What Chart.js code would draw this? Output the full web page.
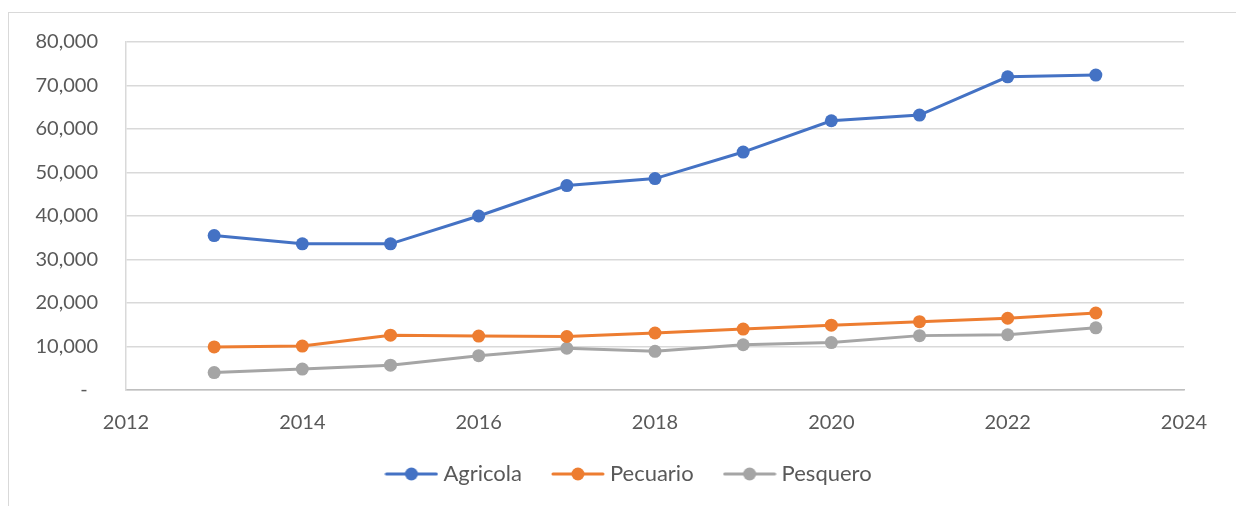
<!DOCTYPE html>
<html>
<head>
<meta charset="utf-8">
<script src="https://cdn.jsdelivr.net/npm/chart.js@4/dist/chart.umd.min.js"></script>
<style>
  html, body { margin: 0; padding: 0; background: #fff; }
  #wrap { position: relative; width: 1236px; height: 506px; overflow: hidden; }
  #frame { position: absolute; left: 8px; top: 12px; width: 1300px; height: 600px; border: 1px solid #d9d9d9; box-sizing: border-box; }
  #chart { position: absolute; left: 0; top: 0; }
</style>
</head>
<body>
<div id="wrap">
  <div id="frame"></div>
  <canvas id="chart" width="1236" height="506"></canvas>
</div>
<script>
const years = [2013, 2014, 2015, 2016, 2017, 2018, 2019, 2020, 2021, 2022, 2023];
const agricola = [35500, 33600, 33600, 40000, 47000, 48600, 54700, 61900, 63200, 72000, 72400];
const pecuario = [9900, 10100, 12600, 12400, 12300, 13100, 14000, 14900, 15700, 16500, 17700];
const pesquero = [4000, 4800, 5700, 7900, 9600, 8900, 10400, 10900, 12500, 12700, 14300];
const seriesNames = ['Agricola', 'Pecuario', 'Pesquero'];
const colors = ['#4472C4', '#ED7D31', '#A5A5A5'];

const FONT = 'Lato, "Open Sans", sans-serif';
const TEXT = '#595959';

// legend icon: short line with a dot in the middle, like the Excel legend
function legendIcon(color) {
  const c = document.createElement('canvas');
  c.width = 54; c.height = 14;
  const g = c.getContext('2d');
  g.strokeStyle = color;
  g.lineWidth = 3;
  g.lineCap = 'round';
  g.beginPath();
  g.moveTo(2, 7); g.lineTo(52, 7);
  g.stroke();
  g.fillStyle = color;
  g.beginPath();
  g.arc(27, 7, 6.5, 0, Math.PI * 2);
  g.fill();
  return c;
}

const toPoints = (vals) => vals.map((v, i) => ({ x: years[i], y: v }));

const datasets = [agricola, pecuario, pesquero].map((vals, i) => ({
  label: seriesNames[i],
  data: toPoints(vals),
  borderColor: colors[i],
  backgroundColor: colors[i],
  borderWidth: 3,
  pointRadius: 6.5,
  pointHoverRadius: 6.5,
  pointBorderWidth: 0,
  tension: 0
}));

// fixed legend band, nudged to where Excel put it (centred on the whole frame)
const legendPlace = {
  id: 'legendPlace',
  beforeInit(chart) {
    const fit = chart.legend.fit;
    chart.legend.fit = function() {
      fit.call(this);
      this.height = 69;
    };
  },
  afterLayout(chart) {
    const lg = chart.legend;
    lg.top -= 9; lg.bottom -= 9;
    lg.left += 39; lg.right += 39;
  }
};

new Chart(document.getElementById('chart'), {
  type: 'line',
  data: { datasets: datasets },
  plugins: [legendPlace],
  options: {
    responsive: false,
    animation: false,
    layout: { padding: { top: 42, right: 52, bottom: 0, left: 0 } },
    plugins: {
      tooltip: { enabled: false },
      legend: {
        position: 'bottom',
        labels: {
          color: TEXT,
          font: { family: FONT, size: 22 },
          usePointStyle: true,
          pointStyleWidth: 42,
          boxHeight: 14,
          padding: 35,
          generateLabels: (chart) => chart.data.datasets.map((ds, i) => ({
            text: ds.label,
            fontColor: TEXT,
            pointStyle: legendIcon(colors[i]),
            fillStyle: colors[i],
            strokeStyle: colors[i],
            lineWidth: 0,
            datasetIndex: i,
            hidden: false
          }))
        }
      }
    },
    scales: {
      x: {
        type: 'linear',
        min: 2012,
        max: 2024,
        ticks: {
          stepSize: 2,
          color: TEXT,
          font: { family: FONT, size: 20 },
          padding: 13,
          callback: (v) => String(v)
        },
        grid: { display: false },
        border: { display: true, color: '#bfbfbf', width: 1.5 },
        afterFit: (s) => { s.height = 47; }
      },
      y: {
        min: 0,
        max: 80000,
        ticks: {
          stepSize: 10000,
          color: TEXT,
          font: { family: FONT, size: 20 },
          padding: 28,
          callback: (v) => v === 0 ? '-  ' : v.toLocaleString('en-US')
        },
        grid: { color: '#d9d9d9', lineWidth: 1.5, drawTicks: false },
        border: { display: true, color: '#d9d9d9', width: 1.5 },
        afterFit: (s) => { s.width = 126; }
      }
    }
  }
});
</script>
</body>
</html>
